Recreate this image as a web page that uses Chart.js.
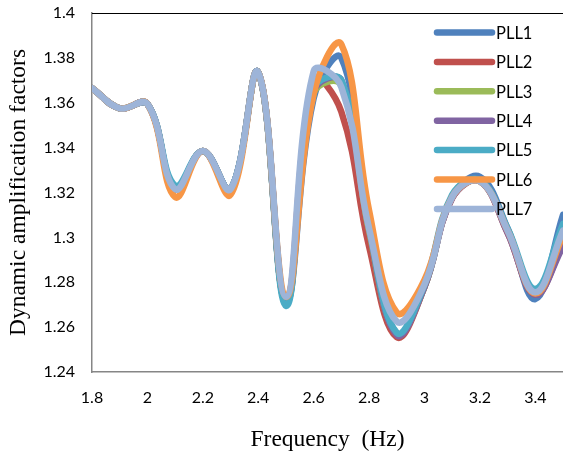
<!DOCTYPE html>
<html>
<head>
<meta charset="utf-8">
<script src="https://cdn.jsdelivr.net/npm/chart.js@4/dist/chart.umd.min.js"></script>
<style>
  html, body { margin: 0; padding: 0; background: #fff; overflow: hidden; }
  #wrap { width: 563px; height: 461px; position: relative; }
</style>
</head>
<body>
<div id="wrap"><canvas id="c" width="563" height="461"></canvas></div>
<script>
// Frequencies (Hz)
const freqs = [1.8, 1.9, 2.0, 2.1, 2.2, 2.3, 2.4, 2.5, 2.6, 2.7, 2.8, 2.9, 3.0, 3.1, 3.2, 3.3, 3.4, 3.5];

// Dynamic amplification factors per PLL case
const pll1 = [1.3665, 1.3575, 1.3595, 1.3215, 1.3385, 1.3215, 1.3735, 1.2710, 1.3620, 1.3800, 1.3070, 1.2570, 1.2780, 1.3180, 1.3270, 1.3040, 1.2725, 1.3100];
const pll2 = [1.3665, 1.3575, 1.3595, 1.3215, 1.3385, 1.3215, 1.3735, 1.2710, 1.3700, 1.3560, 1.2960, 1.2555, 1.2780, 1.3175, 1.3250, 1.3020, 1.2745, 1.2970];
const pll3 = [1.3665, 1.3575, 1.3595, 1.3215, 1.3385, 1.3215, 1.3735, 1.2710, 1.3640, 1.3680, 1.3030, 1.2570, 1.2780, 1.3180, 1.3250, 1.3030, 1.2750, 1.3020];
const pll4 = [1.3665, 1.3575, 1.3595, 1.3215, 1.3385, 1.3215, 1.3735, 1.2710, 1.3650, 1.3700, 1.3040, 1.2565, 1.2780, 1.3175, 1.3250, 1.3020, 1.2745, 1.2960];
const pll5 = [1.3665, 1.3575, 1.3595, 1.3230, 1.3385, 1.3215, 1.3735, 1.2695, 1.3660, 1.3700, 1.3050, 1.2575, 1.2790, 1.3190, 1.3255, 1.3040, 1.2770, 1.3060];
const pll6 = [1.3665, 1.3575, 1.3595, 1.3180, 1.3385, 1.3190, 1.3735, 1.2735, 1.3640, 1.3860, 1.3120, 1.2665, 1.2810, 1.3180, 1.3250, 1.3030, 1.2750, 1.3010];
const pll7 = [1.3665, 1.3575, 1.3595, 1.3215, 1.3385, 1.3215, 1.3735, 1.2735, 1.3740, 1.3670, 1.3040, 1.2625, 1.2790, 1.3180, 1.3250, 1.3030, 1.2755, 1.3030];

const seriesNames = ['PLL1', 'PLL2', 'PLL3', 'PLL4', 'PLL5', 'PLL6', 'PLL7'];
const seriesValues = [pll1, pll2, pll3, pll4, pll5, pll6, pll7];
const seriesColors = ['#4F81BD', '#C0504D', '#9BBB59', '#8064A2', '#4BACC6', '#F79646', '#9DB4D8'];

// Tick labels
const xTicks = [1.8, 2.0, 2.2, 2.4, 2.6, 2.8, 3.0, 3.2, 3.4];
const yTicks = [1.24, 1.26, 1.28, 1.30, 1.32, 1.34, 1.36, 1.38, 1.40];

const xTitle = 'Frequency  (Hz)';
const yTitle = 'Dynamic amplification factors';

const datasets = seriesNames.map((name, i) => ({
  label: name,
  data: freqs.map((f, j) => ({ x: f, y: seriesValues[i][j] })),
  borderColor: seriesColors[i],
  backgroundColor: seriesColors[i],
  borderWidth: 6.5,
  borderCapStyle: 'round',
  borderJoinStyle: 'round',
  pointRadius: 0,
  pointHoverRadius: 0,
  tension: 0.4,
  fill: false,
  order: seriesNames.length - 1 - i
}));

const frameAndLegend = {
  id: 'frameAndLegend',
  beforeDatasetsDraw(chart) {
    const { ctx, chartArea } = chart;
    ctx.save();
    ctx.strokeStyle = '#000000';
    ctx.lineWidth = 1;
    ctx.beginPath();
    ctx.moveTo(chartArea.left, chartArea.top + 0.5);
    ctx.lineTo(chartArea.right, chartArea.top + 0.5);
    ctx.stroke();
    ctx.restore();
  },
  afterDraw(chart) {
    const { ctx, chartArea } = chart;
    ctx.save();
    ctx.font = '16.5px Lato';
    ctx.textBaseline = 'middle';
    ctx.textAlign = 'left';
    chart.data.datasets.forEach((ds, i) => {
      const y = chartArea.top + 19.5 + i * 29.4;
      ctx.strokeStyle = ds.borderColor;
      ctx.lineWidth = 6.5;
      ctx.lineCap = 'round';
      ctx.beginPath();
      ctx.moveTo(chartArea.right - 126, y);
      ctx.lineTo(chartArea.right - 71, y);
      ctx.stroke();
      ctx.fillStyle = '#000000';
      ctx.fillText(ds.label, chartArea.right - 67, y + 1);
    });
    ctx.restore();
  }
};

new Chart(document.getElementById('c'), {
  type: 'line',
  data: { datasets },
  options: {
    responsive: false,
    animation: false,
    events: [],
    layout: { autoPadding: false, padding: { top: 13, right: 0, bottom: 0, left: 0 } },
    plugins: {
      legend: { display: false },
      tooltip: { enabled: false },
      title: { display: false }
    },
    scales: {
      x: {
        type: 'linear',
        min: 1.8,
        max: 3.5,
        afterBuildTicks(scale) { scale.ticks = xTicks.map(v => ({ value: v })); },
        afterFit(scale) { scale.height = 89; scale.paddingLeft = 0; scale.paddingRight = 0; },
        grid: { display: false, drawTicks: false },
        border: { display: true, color: '#868686', width: 1.5 },
        ticks: {
          padding: 16,
          color: '#000000',
          font: { family: 'Lato', size: 16 },
          maxRotation: 0,
          autoSkip: false,
          callback: v => String(Math.round(v * 10) / 10)
        },
        title: {
          display: true,
          text: xTitle,
          color: '#000000',
          font: { family: 'Liberation Serif', size: 23.5 },
          padding: { top: 0, bottom: 7 }
        }
      },
      y: {
        type: 'linear',
        min: 1.24,
        max: 1.40,
        afterBuildTicks(scale) { scale.ticks = yTicks.map(v => ({ value: v })); },
        afterFit(scale) { scale.width = 92; scale.paddingTop = 0; scale.paddingBottom = 0; },
        grid: { display: false, drawTicks: false },
        border: { display: true, color: '#868686', width: 1.5 },
        ticks: {
          padding: 17,
          color: '#000000',
          font: { family: 'Lato', size: 16 },
          autoSkip: false,
          callback: v => String(Math.round(v * 100) / 100)
        },
        title: {
          display: true,
          text: yTitle,
          color: '#000000',
          font: { family: 'Liberation Serif', size: 23.5 },
          padding: { top: 5, bottom: 0 }
        }
      }
    }
  },
  plugins: [frameAndLegend]
});
</script>
</body>
</html>
